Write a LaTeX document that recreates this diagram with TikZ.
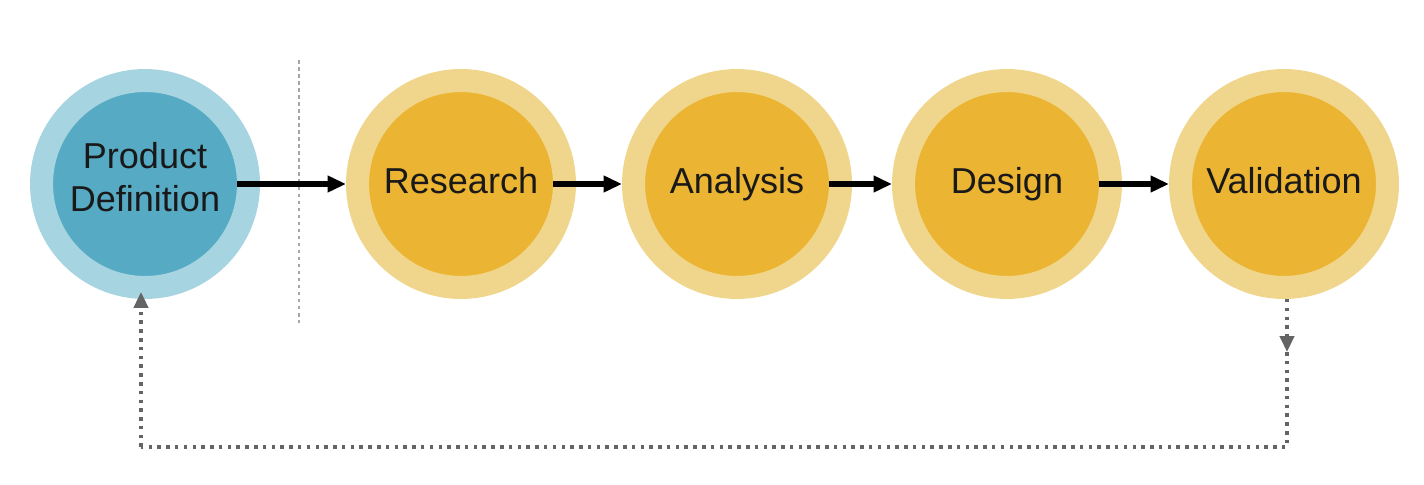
\documentclass[tikz,border=0pt]{standalone}
\usepackage{fontspec}
\setmainfont{Liberation Sans}
\usetikzlibrary{arrows.meta}

\definecolor{tealring}{RGB}{166,212,224}
\definecolor{tealfill}{RGB}{87,170,195}
\definecolor{goldring}{RGB}{240,214,140}
\definecolor{goldfill}{RGB}{235,180,50}
\definecolor{loopgray}{RGB}{100,100,100}

\begin{document}
\begin{tikzpicture}[x=0.02cm,y=0.02cm,
  ringnode/.style={circle,inner sep=0pt,minimum size=4.14cm,line width=0.46cm,
    align=center,text=black!90,font=\fontsize{20.5}{24.5}\selectfont},
  phase/.style={ringnode,draw=goldring,fill=goldfill,text height=15pt,text depth=4.5pt},
  defphase/.style={ringnode,draw=tealring,fill=tealfill,text depth=8pt},
  phasearrow/.style={->,line width=3pt,>={Triangle[length=10.5pt,width=9pt]},
    shorten <=-0.46cm},
  feedback/.style={loopgray,line width=2pt,dash pattern=on 2pt off 3pt,
    >={Triangle[length=9pt,width=8pt]}},
  separator/.style={gray!70,line width=0.6pt,dash pattern=on 2pt off 2pt}]
\useasboundingbox (0,0) rectangle (1424,484);

\node[defphase] (def) at (145,300) {Product\\Definition};
\node[phase] (research) at (461,300) {Research};
\node[phase] (analysis) at (737,300) {Analysis};
\node[phase] (design) at (1007,300) {Design};
\node[phase] (validation) at (1284,300) {Validation};

\draw [separator] (299,424) to (299,161);

\draw [phasearrow] (def) to (research);
\draw [phasearrow] (research) to (analysis);
\draw [phasearrow] (analysis) to (design);
\draw [phasearrow] (design) to (validation);

% back to the start
\coordinate (fbdown) at (1287,132);
\coordinate (fbright) at (1287,37);
\coordinate (fbleft) at (141,37);
\draw [feedback,->] (validation.south -| fbdown) to (fbdown);
\draw [feedback] (fbdown) -- (fbright) -- (fbleft);
\draw [feedback,->,shorten >=-4pt] (fbleft) to (fbleft |- def.south);

\end{tikzpicture}
\end{document}
